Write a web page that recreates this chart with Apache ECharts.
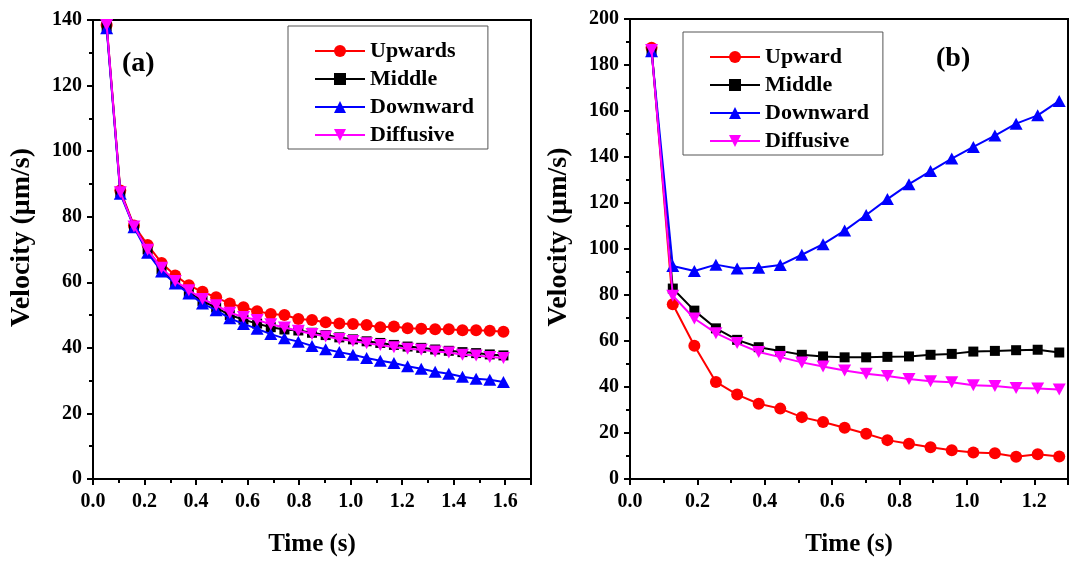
<!DOCTYPE html>
<html>
<head>
<meta charset="utf-8">
<script src="https://cdn.jsdelivr.net/npm/echarts@6/dist/echarts.min.js"></script>
<style>
html,body{margin:0;padding:0;background:#fff;}
#chart{width:1073px;height:562px;}
</style>
</head>
<body>
<div id="chart"></div>
<script>
// ---- data ----
const timeA = [0.053,0.106,0.159,0.212,0.266,0.319,0.372,0.425,0.478,0.531,0.584,0.637,0.690,0.743,0.797,0.850,0.903,0.956,1.009,1.062,1.115,1.168,1.221,1.274,1.328,1.381,1.434,1.487,1.540,1.593];
const upwardsA = [138.5,88.0,77.3,71.4,65.9,62.1,59.1,57.1,55.4,53.5,52.4,51.2,50.3,50.0,48.8,48.5,47.8,47.4,47.3,47.0,46.3,46.5,46.0,45.8,45.7,45.7,45.4,45.4,45.2,44.9];
const middleA = [138.0,87.5,77.0,70.0,64.0,60.0,57.0,54.3,52.3,50.0,48.6,47.4,46.3,45.6,45.3,44.6,43.9,43.2,42.6,42.0,41.5,40.9,40.4,40.0,39.5,39.1,38.7,38.4,38.0,37.7];
const downwardA = [137.5,87.0,76.8,69.0,63.3,59.6,56.6,53.5,51.5,49.0,47.3,45.8,44.2,42.9,41.9,40.6,39.6,38.7,37.9,36.9,36.1,35.4,34.4,33.6,32.7,32.1,31.2,30.6,30.3,29.6];
const diffusiveA = [138.5,87.5,77.0,69.9,64.4,60.4,57.6,54.9,53.0,50.7,49.4,48.5,47.2,46.2,45.2,44.2,43.5,42.7,42.1,41.4,40.9,40.2,39.7,39.4,38.9,38.6,37.9,37.7,37.2,36.9];

const timeB = [0.064,0.127,0.191,0.255,0.318,0.382,0.446,0.510,0.573,0.637,0.701,0.764,0.828,0.892,0.955,1.019,1.083,1.146,1.210,1.274];
const upwardB = [187.5,76.0,57.9,42.2,36.7,32.7,30.6,26.9,24.8,22.3,19.7,16.9,15.3,13.8,12.5,11.5,11.2,9.7,10.8,9.8];
const middleB = [186.5,82.8,73.2,65.5,60.5,57.3,55.7,54.0,53.3,52.9,52.9,53.1,53.3,54.0,54.4,55.4,55.7,56.0,56.2,55.0];
const downwardB = [186.0,92.6,90.4,93.2,91.5,91.8,93.0,97.5,102.1,108.0,114.8,121.7,128.2,133.9,139.3,144.4,149.3,154.5,158.1,164.4];
const diffusiveB = [186.5,79.7,69.8,63.4,59.1,55.2,53.0,50.7,48.9,47.2,45.8,44.8,43.5,42.5,42.1,40.8,40.4,39.6,39.3,38.9];

const namesA = ['Upwards','Middle','Downward','Diffusive'];
const namesB = ['Upward','Middle','Downward','Diffusive'];
const xTitle = 'Time (s)';
const yTitle = 'Velocity (\u03bcm/s)';
const panelA = '(a)';
const panelB = '(b)';

// ---- styles ----
const FONT = '"Liberation Serif","Times New Roman",serif';
const colors = ['#ff0000','#000000','#0000ff','#ff00ff'];
const symbols = ['circle','rect','path://M5,0 L10,8.66 L0,8.66 Z','path://M0,0 L10,0 L5,8.66 Z'];
const sizes = [12,10,[13,12],[13,12]];

function pairs(xs, ys){ return xs.map((x,i)=>[x,ys[i]]); }

function makeX(grid, max){
  return {
    type:'value', gridIndex:grid, min:0, max:max, interval:0.2,
    name:xTitle, nameLocation:'middle', nameGap:53,
    nameTextStyle:{fontFamily:FONT,fontWeight:'bold',fontSize:25,color:'#000'},
    axisLine:{show:true,onZero:false,lineStyle:{color:'#000',width:2}},
    axisTick:{show:true,inside:false,length:6,lineStyle:{color:'#000',width:2}},
    minorTick:{show:true,splitNumber:2,length:4,lineStyle:{color:'#000',width:2}},
    splitLine:{show:false}, minorSplitLine:{show:false},
    axisLabel:{fontFamily:FONT,fontWeight:'bold',fontSize:20,color:'#000',margin:13,
      showMaxLabel:false, formatter:v=>v.toFixed(1)}
  };
}
function makeY(grid, max){
  return {
    type:'value', gridIndex:grid, min:0, max:max, interval:20,
    name:yTitle, nameLocation:'middle', nameGap:57,
    nameTextStyle:{fontFamily:FONT,fontWeight:'bold',fontSize:28,color:'#000',padding:[0,0,0,24]},
    axisLine:{show:true,onZero:false,lineStyle:{color:'#000',width:2}},
    axisTick:{show:true,inside:false,length:6,lineStyle:{color:'#000',width:2}},
    minorTick:{show:true,splitNumber:2,length:4,lineStyle:{color:'#000',width:2}},
    splitLine:{show:false}, minorSplitLine:{show:false},
    axisLabel:{fontFamily:FONT,fontWeight:'bold',fontSize:20,color:'#000',margin:11}
  };
}
function makeSeries(name, i, grid, data){
  return {
    name:name, type:'line', xAxisIndex:grid, yAxisIndex:grid, data:data,
    symbol:symbols[i], symbolSize:sizes[i], showAllSymbol:true,
    lineStyle:{color:colors[i],width:2},
    itemStyle:{color:colors[i],borderWidth:0},
    emphasis:{disabled:true}, animation:false, z:2+i
  };
}
function makeLegend(names, left, top){
  return {
    orient:'vertical', left:left, top:top, data:names,
    itemWidth:50, itemHeight:15, itemGap:6, itemStyle:{borderWidth:0},
    padding:[14,14,3,26], borderColor:'#555', borderWidth:1,
    textStyle:{fontFamily:FONT,fontWeight:'bold',fontSize:22,color:'#000',lineHeight:22},
    selectedMode:false
  };
}

const chart = echarts.init(document.getElementById('chart'), null, {renderer:'canvas'});
const option = {
  backgroundColor:'#fff',
  animation:false,
  grid:[
    {left:93, top:20, width:438, height:462, show:true, borderColor:'#000', borderWidth:2, containLabel:false},
    {left:630, top:19, width:438, height:463, show:true, borderColor:'#000', borderWidth:2, containLabel:false}
  ],
  xAxis:[makeX(0,1.7), makeX(1,1.3)],
  yAxis:[makeY(0,140), makeY(1,200)],
  legend:[makeLegend(namesA,288,26), makeLegend(namesB,683,32)],
  graphic:[
    {type:'text', left:122, top:50, style:{text:panelA, font:'bold 28px '+FONT, fill:'#000'}},
    {type:'text', left:936, top:45, style:{text:panelB, font:'bold 28px '+FONT, fill:'#000'}}
  ],
  series:[
    makeSeries(namesA[0],0,0,pairs(timeA,upwardsA)),
    makeSeries(namesA[1],1,0,pairs(timeA,middleA)),
    makeSeries(namesA[2],2,0,pairs(timeA,downwardA)),
    makeSeries(namesA[3],3,0,pairs(timeA,diffusiveA)),
    makeSeries(namesB[0],0,1,pairs(timeB,upwardB)),
    makeSeries(namesB[1],1,1,pairs(timeB,middleB)),
    makeSeries(namesB[2],2,1,pairs(timeB,downwardB)),
    makeSeries(namesB[3],3,1,pairs(timeB,diffusiveB))
  ]
};
chart.setOption(option);
</script>
</body>
</html>
